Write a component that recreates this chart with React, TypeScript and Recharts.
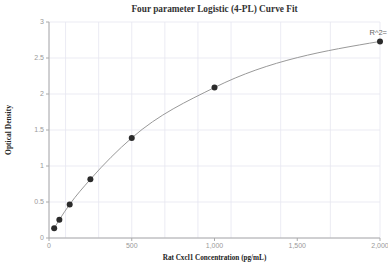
import React from "react";
import {
  ComposedChart,
  Line,
  Scatter,
  XAxis,
  YAxis,
  CartesianGrid,
  ReferenceDot,
} from "recharts";

const concentrations = [31.25, 62.5, 125, 250, 500, 1000, 2000];
const odValues = [0.135, 0.254, 0.467, 0.815, 1.39, 2.09, 2.73];
const xTicks = [0, 500, 1000, 1500, 2000];
const xGridTicks = [0, 100, 200, 300, 400, 500, 600, 700, 800, 900, 1000, 1100, 1200, 1300, 1400, 1500, 1600, 1700, 1800, 1900, 2000];
const yTicks = [0, 0.5, 1, 1.5, 2, 2.5, 3];
const title = "Four parameter Logistic (4-PL) Curve Fit";
const xLabel = "Rat Cxcl1 Concentration (pg/mL)";
const yLabel = "Optical Density";
const r2Label = "R^2=";

const data = concentrations.map((x, i) => ({ x, y: odValues[i] }));

const tickStyle = { fontSize: 7, fill: "#999", fontFamily: "Liberation Sans, Arial, sans-serif" };
const serif = "Liberation Serif, Times New Roman, serif";

const R2Label = (props: any) => {
  const vb = props.viewBox || {};
  const cx = (vb.x ?? 0) + (vb.width ?? 0) / 2;
  const cy = (vb.y ?? 0) + (vb.height ?? 0) / 2;
  return (
    <text
      x={cx + 7}
      y={cy - 6}
      textAnchor="end"
      fontSize={7.5}
      fill="#666"
      fontFamily="Liberation Sans, Arial, sans-serif"
    >
      {r2Label}
    </text>
  );
};

export default function App() {
  return (
    <div style={{ position: "absolute", left: 0, top: 0, width: 388, height: 268, background: "#fff" }}>
      <div
        style={{
          position: "absolute",
          left: 49,
          width: 331,
          top: 4,
          textAlign: "center",
          fontFamily: serif,
          fontWeight: "bold",
          fontSize: 9.3,
          color: "#333",
        }}
      >
        {title}
      </div>
      <ComposedChart
        width={388}
        height={268}
        data={data}
        margin={{ top: 22, right: 8, bottom: 0, left: 0 }}
      >
        <CartesianGrid xAxisId="grid" stroke="#e6e6f0" strokeWidth={0.8} />
        <XAxis
          xAxisId="grid"
          dataKey="x"
          type="number"
          domain={[0, 2000]}
          ticks={xGridTicks}
          hide
        />
        <XAxis
          dataKey="x"
          type="number"
          domain={[0, 2000]}
          ticks={xTicks}
          tickFormatter={(v: number) => v.toLocaleString("en-US")}
          tick={tickStyle}
          tickSize={3}
          height={30}
          stroke="#aaa"
          label={{
            value: xLabel,
            position: "insideBottom",
            offset: 8,
            style: { fontSize: 7.2, fontWeight: "bold", fill: "#222", fontFamily: serif },
          }}
        />
        <YAxis
          type="number"
          domain={[0, 3]}
          ticks={yTicks}
          tick={tickStyle}
          tickSize={3}
          width={49}
          stroke="#aaa"
          label={{
            value: yLabel,
            angle: -90,
            position: "insideLeft",
            offset: 8,
            style: { textAnchor: "middle", fontSize: 7.5, fontWeight: "bold", fill: "#222", fontFamily: serif },
          }}
        />
        <Line
          dataKey="y"
          type="monotone"
          stroke="#999"
          strokeWidth={1}
          dot={false}
          activeDot={false}
          isAnimationActive={false}
        />
        <Scatter dataKey="y" fill="#2b2b2b" shape={(p: any) => <circle cx={p.cx} cy={p.cy} r={3} fill="#2b2b2b" />} isAnimationActive={false} />
        <ReferenceDot
          x={concentrations[concentrations.length - 1]}
          y={odValues[odValues.length - 1]}
          r={0}
          stroke="none"
          fill="none"
          label={<R2Label />}
        />
      </ComposedChart>
    </div>
  );
}
